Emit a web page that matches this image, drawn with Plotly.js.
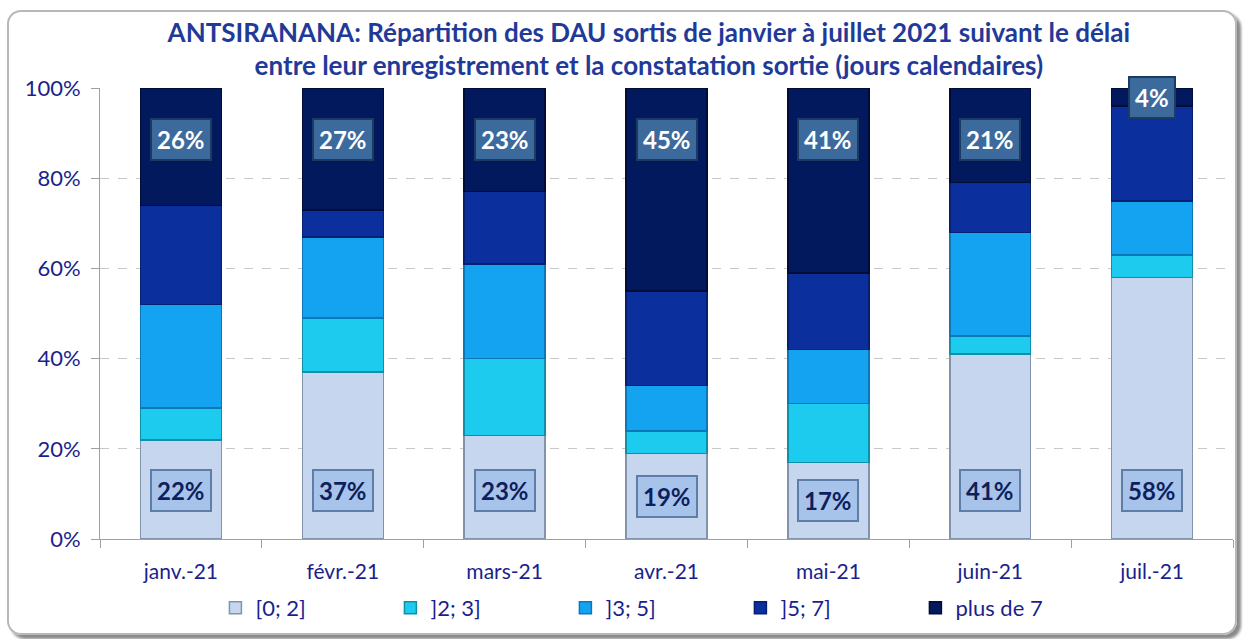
<!DOCTYPE html>
<html>
<head>
<meta charset="utf-8">
<script src="https://cdn.plot.ly/plotly-3.0.1.min.js"></script>
<style>
html,body{margin:0;padding:0;background:#fff;}
#frame{position:absolute;left:7px;top:10px;width:1226px;height:621px;border:2px solid #b8b8b8;border-radius:14px;box-shadow:4px 4px 3px #8a8a8a;}
#chart{position:absolute;left:0;top:0;width:1243px;height:639px;}
</style>
</head>
<body>
<div id="frame"></div>
<div id="chart"></div>
<script>
const months = ["janv.-21","févr.-21","mars-21","avr.-21","mai-21","juin-21","juil.-21"];
const seriesNames = ["[0; 2]","]2; 3]","]3; 5]","]5; 7]","plus de 7"];
const s0_2   = [22, 37, 23, 19, 17, 41, 58];
const s2_3   = [7, 12, 17, 5, 13, 4, 5];
const s3_5   = [23, 18, 21, 10, 12, 23, 12];
const s5_7   = [22, 6, 16, 21, 17, 11, 21];
const sPlus7 = [26, 27, 23, 45, 41, 21, 4];

const fills = ["#c6d6ef","#1ccbee","#14a3f0","#0b2f9c","#03195e"];
const edges = ["#8393ab","#0f8fa8","#0c78b8","#061f6e","#010c38"];
const data = [s0_2, s2_3, s3_5, s5_7, sPlus7];

const traces = data.map((vals, i) => ({
  type: "bar",
  name: seriesNames[i],
  x: months,
  y: vals,
  marker: {color: fills[i], line: {color: edges[i], width: 1.5}},
  hoverinfo: "x+y+name"
}));

const annotations = [];
months.forEach((m, j) => {
  annotations.push({
    x: m, y: Math.min(s0_2[j] / 2, 10.8), xref: "x", yref: "y",
    text: "<b>" + s0_2[j] + "%</b>", showarrow: false,
    font: {family: "Lato, 'Open Sans', sans-serif", size: 24, color: "#0d1f5c"},
    bgcolor: "#a7c3ea", bordercolor: "#5d7ea8", borderwidth: 2, borderpad: 5
  });
  const v = sPlus7[j];
  annotations.push({
    x: m, y: v < 10 ? 100 - v / 2 : 88.5, xref: "x", yref: "y",
    text: "<b>" + v + "%</b>", showarrow: false,
    font: {family: "Lato, 'Open Sans', sans-serif", size: 24, color: "#ffffff"},
    bgcolor: "#3c6a9c", bordercolor: "#1c3a62", borderwidth: 2, borderpad: 5
  });
});

const layout = {
  width: 1243, height: 639,
  paper_bgcolor: "rgba(0,0,0,0)", plot_bgcolor: "rgba(0,0,0,0)",
  margin: {l: 100, r: 10, t: 88, b: 100},
  barmode: "stack", bargap: 0.5,
  font: {family: "Lato, 'Open Sans', sans-serif", color: "#1b1f8c"},
  title: {
    text: "<b>ANTSIRANANA: Répartition des DAU sortis de janvier à juillet 2021 suivant le délai<br>entre leur enregistrement et la constatation sortie (jours calendaires)</b>",
    x: 0.522, xanchor: "center", y: 0.935, yanchor: "top",
    font: {family: "Lato, 'Open Sans', sans-serif", size: 26, color: "#1f3a98"}
  },
  xaxis: {
    type: "category", tickson: "boundaries", ticks: "outside", ticklen: 8, tickcolor: "#a0a0a0",
    showline: true, linecolor: "#a0a0a0", linewidth: 1, showgrid: false,
    ticklabelstandoff: 14,
    tickfont: {size: 21, color: "#1b1f8c"}
  },
  yaxis: {
    range: [0, 100], tickvals: [0, 20, 40, 60, 80, 100], ticktext: ["0%","20%","40%","60%","80%","100%"],
    ticks: "outside", ticklen: 8, tickcolor: "#a0a0a0",
    showline: true, linecolor: "#a0a0a0", linewidth: 1,
    showgrid: true, gridcolor: "#c8c8c8", griddash: "dash", gridwidth: 1,
    ticklabelstandoff: 6,
    zeroline: false, tickfont: {size: 22, color: "#1b1f8c"}
  },
  legend: {
    orientation: "h", x: 0.488, xanchor: "center", y: -0.153, yanchor: "middle",
    traceorder: "normal", entrywidth: 130, font: {size: 22, color: "#1b1f8c"}
  },
  annotations: annotations,
  showlegend: true
};

Plotly.newPlot("chart", traces, layout, {displayModeBar: false, staticPlot: true});
</script>
</body>
</html>
